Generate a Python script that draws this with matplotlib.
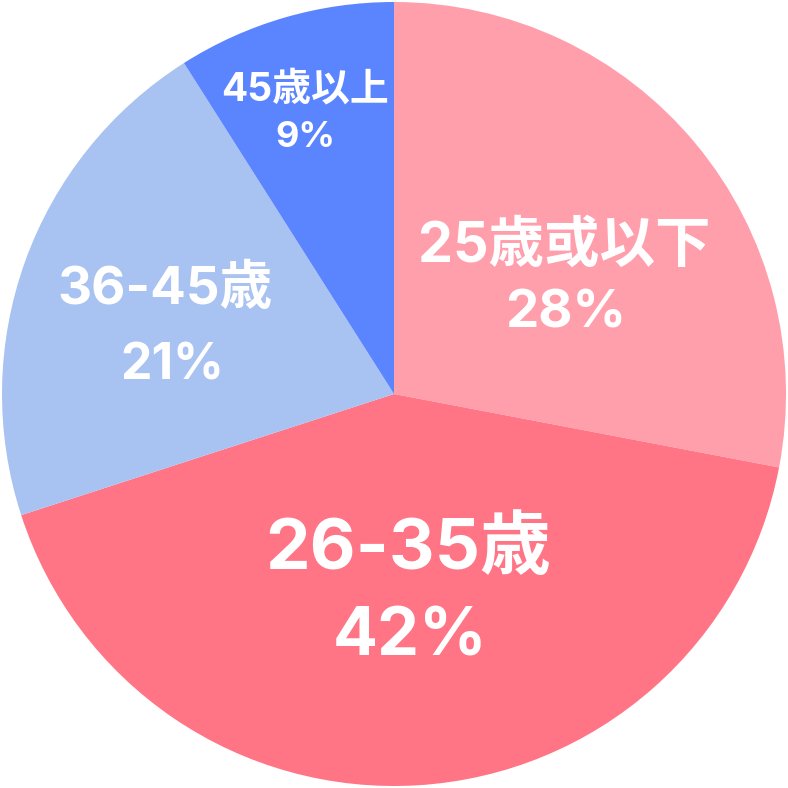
import matplotlib
matplotlib.use("Agg")
import matplotlib.pyplot as plt

categories = ["25歳或以下", "26-35歳", "36-45歳", "45歳以上"]
values = [28, 42, 21, 9]
pct_labels = ["28%", "42%", "21%", "9%"]

colors = ["#FF9FAC", "#FF7585", "#A8C2F2", "#5B84FF"]
# label layout (pixel centers in 788px canvas): name line, pct line, font sizes
name_pos = [(564, 246), (408, 550), (165, 290), (305, 90)]
pct_pos = [(566, 314), (410, 638), (172, 366), (305, 137)]
name_fs = [40, 51, 38, 28]
pct_fs = [38, 48, 36, 26]

W = 788
fig = plt.figure(figsize=(7.88, 7.88), dpi=100)
ax = fig.add_axes([0, 0, 1, 1])
R = 392
cx, cy = 394, 394
ax.pie(values, colors=colors, startangle=90, counterclock=False,
       radius=R, center=(cx, W - cy), wedgeprops=dict(linewidth=0))
ax.set_xlim(0, W)
ax.set_ylim(0, W)
ax.set_aspect("equal")
ax.axis("off")

fam = ["Inter", "Noto Sans CJK TC", "DejaVu Sans"]
for i in range(len(categories)):
    x, y = name_pos[i]
    ax.text(x, W - y, categories[i], ha="center", va="center", color="white",
            fontsize=name_fs[i], fontweight="bold", family=fam)
    x, y = pct_pos[i]
    ax.text(x, W - y, pct_labels[i], ha="center", va="center", color="white",
            fontsize=pct_fs[i], fontweight="bold", family=fam)

fig.savefig("out.png", dpi=100, facecolor="white")
